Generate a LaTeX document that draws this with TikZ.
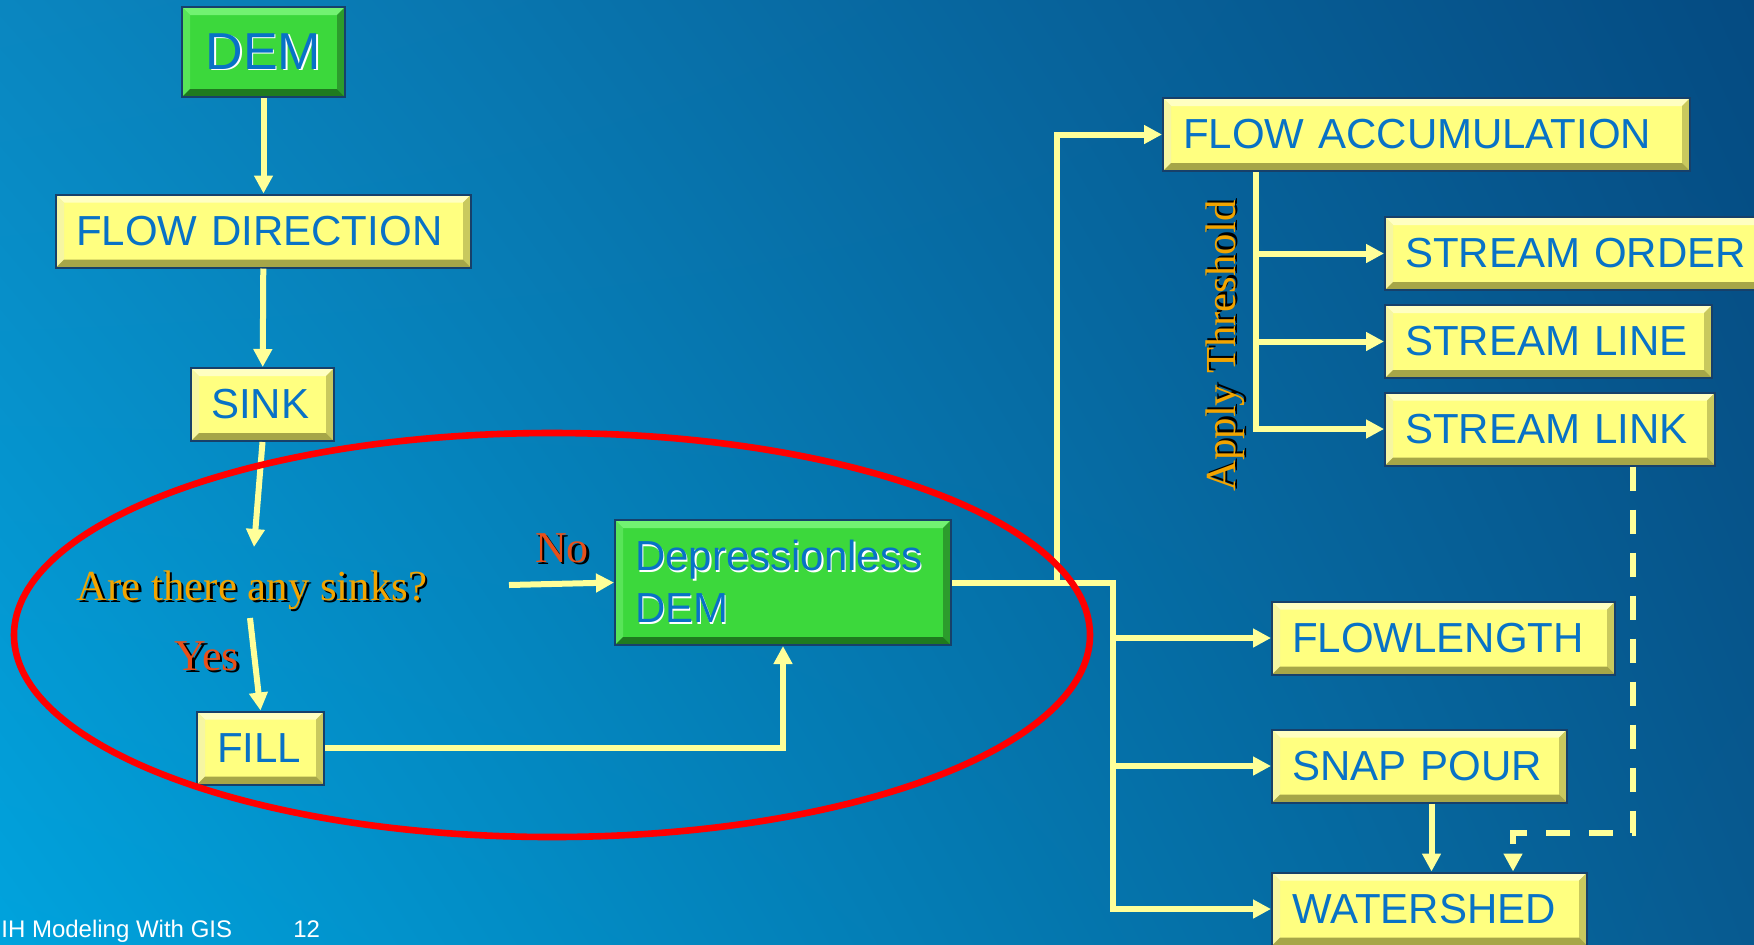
\documentclass[tikz,border=0pt]{standalone}
\usepackage{fontspec}
\setmainfont{Liberation Serif}
\setsansfont{Liberation Sans}
\usetikzlibrary{arrows.meta,calc,shadings}

% palette
\definecolor{bgUL}{HTML}{0A86C0}
\definecolor{bgUR}{HTML}{054B82}
\definecolor{bgLL}{HTML}{00A3DD}
\definecolor{bgLR}{HTML}{075A90}
\definecolor{wirecol}{HTML}{FFFF99}
\definecolor{boxtxt}{HTML}{0872C6}
\definecolor{rim}{HTML}{17406A}
\definecolor{yface}{HTML}{FFFF80}
\definecolor{ytop}{HTML}{FFFFC2}
\definecolor{yleft}{HTML}{F6F6A2}
\definecolor{yright}{HTML}{C9C95E}
\definecolor{ybot}{HTML}{A6A648}
\definecolor{gface}{HTML}{3CD83C}
\definecolor{gtop}{HTML}{72F272}
\definecolor{gleft}{HTML}{58E458}
\definecolor{gright}{HTML}{2C9C2C}
\definecolor{gbot}{HTML}{1F7A1F}
\definecolor{askcol}{HTML}{F2A400}
\definecolor{yesno}{HTML}{E8501A}
\definecolor{ring}{HTML}{FF0000}

\newlength\bev \setlength\bev{4pt}

% text with an offset copy behind it: #1 text, #2 shadow colour, #3 offset
\newcommand\dropshade[3]{%
  \leavevmode\rlap{\kern#3\raisebox{-#3}{\color{#2}#1}}#1}

\tikzset{
  bevelled/.style n args={5}{
    rectangle, inner ysep=0pt, inner xsep=10pt,
    fill=#1, draw=rim, line width=1pt,
    font=\sffamily\fontsize{21}{26}\selectfont, text=boxtxt, align=left,
    path picture={
      \path (path picture bounding box.north west) coordinate (pp-nw)
            (path picture bounding box.north east) coordinate (pp-ne)
            (path picture bounding box.south east) coordinate (pp-se)
            (path picture bounding box.south west) coordinate (pp-sw);
      \fill[#2] (pp-nw) -- (pp-ne) -- ([shift={(-\bev,-\bev)}]pp-ne) -- ([shift={(\bev,-\bev)}]pp-nw) -- cycle;
      \fill[#3] (pp-nw) -- (pp-sw) -- ([shift={(\bev,\bev)}]pp-sw) -- ([shift={(\bev,-\bev)}]pp-nw) -- cycle;
      \fill[#4] (pp-ne) -- (pp-se) -- ([shift={(-\bev,\bev)}]pp-se) -- ([shift={(-\bev,-\bev)}]pp-ne) -- cycle;
      \fill[#5] (pp-sw) -- (pp-se) -- ([shift={(-\bev,\bev)}]pp-se) -- ([shift={(\bev,\bev)}]pp-sw) -- cycle;
    }
  },
  ybox/.style={bevelled={yface}{ytop}{yleft}{yright}{ybot}, minimum height=36.5pt, text width=#1},
  gbox/.style={bevelled={gface}{gtop}{gleft}{gright}{gbot}},
  wire/.style={draw=wirecol, line width=3pt, line join=miter},
  arr/.style={wire, -{Triangle[length=9pt,width=9pt]}},
  dashwire/.style={arr, dash pattern=on 12pt off 9.5pt},
  serifnote/.style={font=\rmfamily\fontsize{21.4}{26}\selectfont, inner sep=0pt, anchor=base},
  answer/.style={font=\rmfamily\fontsize{22}{26}\selectfont, inner sep=0pt, anchor=base, text=yesno},
  footer/.style={font=\sffamily\fontsize{12}{14}\selectfont, inner sep=0pt, anchor=base west, text=white},
}

\begin{document}
\begin{tikzpicture}[x=0.5pt, y=-0.5pt]
  % page and background
  \useasboundingbox (0,0) rectangle (1754,944);
  \shade[upper left=bgUL, upper right=bgUR, lower left=bgLL, lower right=bgLR]
    (0,0) rectangle (1754,944);

  % left column
  \node[gbox, minimum width=81.5pt, minimum height=45pt, align=center,
        font=\sffamily\fontsize{26}{30}\selectfont] (dem) at (263.5,52)
        {\dropshade{DEM}{white}{0.8pt}};
  \node[ybox=187.5pt] (fdir) at (263.5,231) {FLOW DIRECTION};
  \node[ybox=51.5pt] (sink) at (262.5,404.5) {SINK};
  \node[serifnote, text=askcol] (ask) at (252,600)
        {\dropshade{Are there any sinks?}{black}{1.2pt}};
  \node[answer] (yes) at (207,670) {\dropshade{Yes}{black}{1.2pt}};
  \node[answer] (no) at (562,562) {\dropshade{No}{black}{1.2pt}};
  \node[ybox=43.5pt] (fillbox) at (260.5,748) {FILL};
  \node[gbox, text width=148pt, minimum height=62.5pt] (dem2) at (783,582.5)
        {\dropshade{Depressionless}{white}{0.8pt}\\\dropshade{DEM}{white}{0.8pt}};

  % right column
  \node[ybox=243.5pt] (facc) at (1426.5,134.5) {FLOW ACCUMULATION};
  \node[ybox=180pt] (sorder) at (1585,253.5) {STREAM ORDER};
  \node[ybox=143.5pt] (sline) at (1548.5,341.5) {STREAM LINE};
  \node[ybox=145pt] (slink) at (1550,429) {STREAM LINK};
  \node[ybox=151.5pt] (flen) at (1443.5,638) {FLOWLENGTH};
  \node[ybox=127.5pt] (snap) at (1419.5,766) {SNAP POUR};
  \node[ybox=137.5pt] (wshed) at (1429.5,909) {WATERSHED};
  \node[serifnote, anchor=center, rotate=90, text=askcol] (thr) at (1226,346)
        {\dropshade{Apply Threshold}{black}{1.2pt}};

  % junction points
  \coordinate (askin) at (254,547);
  \coordinate (askout) at (250,618);
  \coordinate (noin) at (509,585);
  \coordinate (jup) at (1057,582.5);
  \coordinate (jdn) at (1113,582.5);
  \coordinate (tk) at (1256,425);
  \coordinate (dk) at (1633,833);
  \coordinate (dw) at (1513,833);

  % connectors, left part
  \draw[arr] (dem) -- (fdir);
  \draw[arr] (fdir) -- (sink);
  \draw[arr] (sink.south) -- (askin);
  \draw[arr] (askout) -- (fillbox.north);
  \draw[arr] (noin) -- (dem2.west);
  \draw[arr] (fillbox.east) -| (dem2.south);

  % connectors, right part
  \draw[arr] (dem2.east) -- (jdn) |- (wshed.west);
  \draw[arr] (jup) |- (facc.west);
  \draw[arr] (jdn |- flen.west) -- (flen.west);
  \draw[arr] (jdn |- snap.west) -- (snap.west);
  \draw[arr] (tk |- facc.south) |- (slink.west);
  \draw[arr] (tk |- sorder.west) -- (sorder.west);
  \draw[arr] (tk |- sline.west) -- (sline.west);
  \draw[arr] ([xshift=6pt]snap.south) -- ([xshift=6pt]snap.south |- wshed.north);
  \draw[dashwire] (slink.south -| dk) -- (dk) -- (dw) -- (dw |- wshed.north);

  % highlight ring round the sink-filling loop
  \draw[ring, line width=3.3pt] (552,635) ellipse [x radius=538, y radius=202];

  % footer
  \node[footer] (foot) at (1,937) {IH Modeling With GIS};
  \node[footer] (pg) at (293,937) {12};
\end{tikzpicture}
\end{document}
